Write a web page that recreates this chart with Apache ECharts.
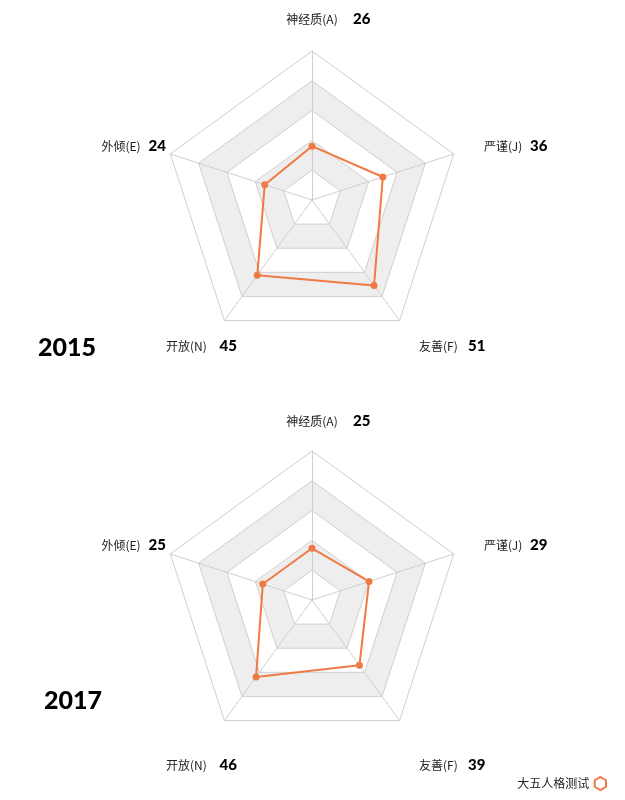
<!DOCTYPE html>
<html>
<head>
<meta charset="utf-8">
<script src="https://cdn.jsdelivr.net/npm/echarts@6/dist/echarts.min.js"></script>
<style>
html,body{margin:0;padding:0;background:#fff;}
#main{width:625px;height:800px;}
</style>
</head>
<body>
<div id="main"></div>
<script>
// ---- data ----
const indicatorNames = ['神经质(A)', '外倾(E)', '开放(N)', '友善(F)', '严谨(J)'];
const years = ['2015', '2017'];
const values2015 = [26, 24, 45, 51, 36];
const values2017 = [25, 25, 46, 39, 29];
const axisMax = 72;
const seriesName = '大五人格测试';

// ---- layout (not data) ----
const centers = [[312, 200], [312, 600]];
const radarRadius = 149;
const labelCols = [
  { x: 312, align: 'center', vx: 353, row: 'top' },
  { x: 101.5, align: 'left', vx: 148.5, row: 'side' },
  { x: 166, align: 'left', vx: 219.5, row: 'bottom' },
  { x: 419, align: 'left', vx: 468, row: 'bottom' },
  { x: 484, align: 'left', vx: 530, row: 'side' }
];
const rowY = [
  { top: 19, side: 146, bottom: 346 },
  { top: 421, side: 545.5, bottom: 765 }
];
const titlePos = [{ x: 38, y: 348 }, { x: 44, y: 700.5 }];

const orange = '#f07a45';
const allValues = [values2015, values2017];

const chart = echarts.init(document.getElementById('main'), null, { renderer: 'canvas' });

const radars = centers.map(c => ({
  center: c,
  radius: radarRadius,
  startAngle: 90,
  shape: 'polygon',
  splitNumber: 5,
  indicator: indicatorNames.map(n => ({ name: n, max: axisMax, min: 0 })),
  axisName: { show: false },
  axisLine: { lineStyle: { color: '#cfcfcf', width: 1 } },
  splitLine: { lineStyle: { color: '#cfcfcf', width: 1 } },
  splitArea: { show: true, areaStyle: { color: ['#ffffff', '#eeeeee', '#ffffff', '#eeeeee', '#ffffff'] } }
}));

const series = allValues.map((vals, i) => ({
  type: 'radar',
  name: seriesName,
  radarIndex: i,
  symbol: 'circle',
  symbolSize: 7,
  lineStyle: { color: orange, width: 2 },
  itemStyle: { color: orange },
  data: [{ value: vals, name: seriesName }]
}));

const graphics = [];
allValues.forEach((vals, ci) => {
  labelCols.forEach((lc, k) => {
    const y = rowY[ci][lc.row];
    graphics.push({
      type: 'text', x: lc.x, y: y,
      style: { text: indicatorNames[k], fill: '#222', font: '12px "Noto Sans CJK SC", sans-serif', align: lc.align, verticalAlign: 'middle' }
    });
    graphics.push({
      type: 'text', x: lc.vx, y: y,
      style: { text: String(vals[k]), fill: '#000', font: '900 15px Lato, "DejaVu Sans", sans-serif', align: 'left', verticalAlign: 'middle' }
    });
  });
  graphics.push({
    type: 'text', x: titlePos[ci].x, y: titlePos[ci].y,
    style: { text: years[ci], fill: '#000', font: '900 25px Lato, "DejaVu Sans", sans-serif', align: 'left', verticalAlign: 'middle' }
  });
});

chart.setOption({
  animation: false,
  backgroundColor: '#fff',
  legend: {
    data: [seriesName],
    right: 13,
    top: 771,
    align: 'right',
    itemWidth: 12,
    itemHeight: 13,
    itemGap: 6,
    icon: 'path://M50,0 L93.3,25 L93.3,75 L50,100 L6.7,75 L6.7,25 Z',
    itemStyle: { color: '#fff', borderColor: orange, borderWidth: 2 },
    textStyle: { color: '#222', fontSize: 12, fontFamily: '"Noto Sans CJK SC", sans-serif' },
    selectedMode: false
  },
  radar: radars,
  series: series,
  graphic: graphics
});
</script>
</body>
</html>
